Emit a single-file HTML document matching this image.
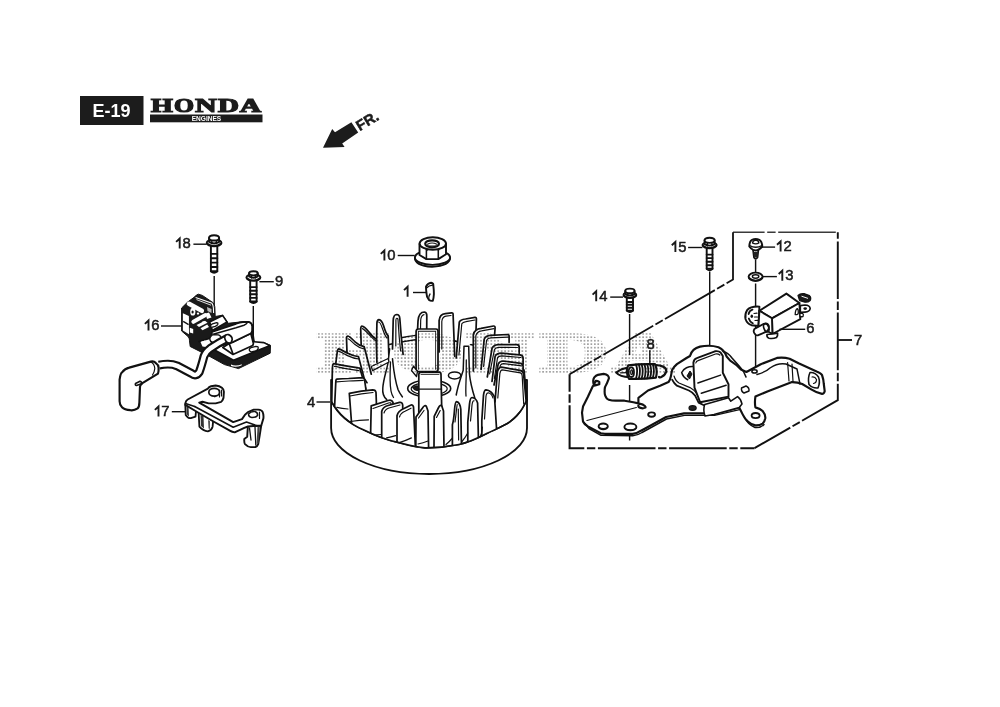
<!DOCTYPE html>
<html><head><meta charset="utf-8"><title>E-19</title>
<style>
html,body{margin:0;padding:0;background:#fff;width:1000px;height:707px;overflow:hidden}
svg{display:block}
.lb{font-family:"Liberation Sans",sans-serif;font-size:14.8px;letter-spacing:0.7px;fill:#1a1a1a;stroke:#1a1a1a;stroke-width:0.5}
.o{fill:#fff;stroke:#111;stroke-width:1.92;stroke-linejoin:round;stroke-linecap:round}
.t{fill:none;stroke:#111;stroke-width:1.32;stroke-linecap:round;stroke-linejoin:round}
.k{fill:none;stroke:#111;stroke-width:1.92;stroke-linecap:round;stroke-linejoin:round}
.ld{fill:none;stroke:#111;stroke-width:1.4}
.dk{fill:#1a1a1a;stroke:#111;stroke-width:1;stroke-linejoin:round}
.ds{fill:none;stroke:#111;stroke-width:1.6}
</style></head>
<body>
<svg width="1000" height="707" viewBox="0 0 1000 707">
<defs>
<pattern id="dots" x="314.5" y="332.9" width="3.45" height="3.47" patternUnits="userSpaceOnUse">
<rect x="0.1" y="0.1" width="1.55" height="1.55" fill="#8c8c8c"/>
</pattern>
<g id="hondaLogo" font-family="Liberation Serif" font-weight="bold" font-size="18"><text transform="translate(150.89,111.6) scale(1.556,1)">H</text><text transform="translate(174.04,111.6) scale(1.431,1)">O</text><text transform="translate(195.16,111.6) scale(1.631,1)">N</text><text transform="translate(218.11,111.6) scale(1.61,1)">D</text><text transform="translate(239.87,111.6) scale(1.641,1)">A</text></g>
<mask id="wmmask" maskUnits="userSpaceOnUse" x="300" y="320" width="420" height="70">
<rect x="300" y="320" width="420" height="70" fill="#000"/>
<g font-family="Liberation Serif" font-weight="bold" font-size="18" fill="#fff" stroke="#fff" stroke-width="1.2">
<text transform="translate(318.08,370.65) scale(5.016,3.086)">H</text>
<text transform="translate(392.74,370.65) scale(4.994,3.086)">O</text>
<text transform="translate(466.14,370.65) scale(5.143,3.086)">N</text>
<text transform="translate(540.63,370.65) scale(5.137,3.086)">D</text>
<text transform="translate(612.88,370.65) scale(4.606,3.086)">A</text>
</g>
</mask>
</defs>

<g id="header">
<rect x="80" y="96" width="63.5" height="29" fill="#1c1c1c"/>
<text x="111.5" y="117.2" text-anchor="middle" font-family="Liberation Sans" font-weight="bold" font-size="18" fill="#fff">E-19</text>
<use href="#hondaLogo" fill="#1c1c1c" stroke="#1c1c1c" stroke-width="1.2"/>
<rect x="150" y="114.5" width="112.5" height="7.8" fill="#1c1c1c"/>
<text x="206.5" y="121.3" text-anchor="middle" font-family="Liberation Sans" font-weight="bold" font-size="8" fill="#fff" textLength="29.5" lengthAdjust="spacingAndGlyphs">ENGINES</text>
</g>
<g id="fr">
<polygon points="323,147.8 332.2,129 335,132.2 351.4,122.2 358.2,132.6 342.2,143.4 344.6,147" fill="#1c1c1c"/>
<text transform="translate(359.8,131.2) rotate(-31)" font-family="Liberation Sans" font-weight="bold" font-size="14.6" fill="#1c1c1c" stroke="#1c1c1c" stroke-width="0.5">FR.</text>
</g>

<g id="bolts">
<path class="o" d="M210.9,245.6 V271.3 Q214.1,274.3 217.3,271.3 V245.6 Z"/>
<path class="t" d="M210.9,253.9 H217.3" style="stroke-width:1.92"/>
<path class="t" d="M210.9,258.3 H217.3" style="stroke-width:1.92"/>
<path class="t" d="M210.9,262.6 H217.3" style="stroke-width:1.92"/>
<path class="t" d="M210.9,267.0 H217.3" style="stroke-width:1.92"/>
<path class="t" d="M210.9,271.3 H217.3" style="stroke-width:1.92"/>
<ellipse class="o" cx="214.1" cy="242.9" rx="7.4" ry="3.4"/>
<path class="t" d="M207.2,243.4 Q214.1,248.4 221.0,243.4"/>
<path class="o" d="M209.1,237.9 V241.9 Q214.1,245.0 219.1,241.9 V237.9 Z"/>
<path class="t" d="M211.8,238.9 V243.7 M216.3,238.9 V243.7"/>
<ellipse class="o" cx="214.1" cy="237.9" rx="5.0" ry="2.6"/>
<path class="o" d="M250.2,280.1 V301.5 Q253.4,304.5 256.6,301.5 V280.1 Z"/>
<path class="t" d="M250.2,287.1 H256.6" style="stroke-width:1.92"/>
<path class="t" d="M250.2,290.7 H256.6" style="stroke-width:1.92"/>
<path class="t" d="M250.2,294.3 H256.6" style="stroke-width:1.92"/>
<path class="t" d="M250.2,297.9 H256.6" style="stroke-width:1.92"/>
<path class="t" d="M250.2,301.5 H256.6" style="stroke-width:1.92"/>
<ellipse class="o" cx="253.4" cy="277.5" rx="7.0" ry="3.3"/>
<path class="t" d="M246.9,278.0 Q253.4,282.8 259.9,278.0"/>
<path class="o" d="M249.1,273.3 V276.5 Q253.4,279.0 257.7,276.5 V273.3 Z"/>
<path class="t" d="M251.5,274.3 V278.0 M255.3,274.3 V278.0"/>
<ellipse class="o" cx="253.4" cy="273.3" rx="4.3" ry="2.1"/>
<path class="o" d="M706.7,247.6 V268.8 Q709.6,271.8 712.5,268.8 V247.6 Z"/>
<path class="t" d="M706.7,254.6 H712.5" style="stroke-width:1.92"/>
<path class="t" d="M706.7,258.1 H712.5" style="stroke-width:1.92"/>
<path class="t" d="M706.7,261.7 H712.5" style="stroke-width:1.92"/>
<path class="t" d="M706.7,265.2 H712.5" style="stroke-width:1.92"/>
<path class="t" d="M706.7,268.8 H712.5" style="stroke-width:1.92"/>
<ellipse class="o" cx="709.6" cy="245.1" rx="7.1" ry="3.2"/>
<path class="t" d="M703.0,245.6 Q709.6,250.2 716.2,245.6"/>
<path class="o" d="M704.6,240.3 V244.1 Q709.6,247.2 714.6,244.1 V240.3 Z"/>
<path class="t" d="M707.4,241.3 V245.9 M711.9,241.3 V245.9"/>
<ellipse class="o" cx="709.6" cy="240.3" rx="5.0" ry="2.6"/>
<path class="o" d="M626.8,297.4 V310.6 Q629.9,313.6 633.0,310.6 V297.4 Z"/>
<path class="t" d="M626.8,302.0 H633.0" style="stroke-width:1.92"/>
<path class="t" d="M626.8,304.8 H633.0" style="stroke-width:1.92"/>
<path class="t" d="M626.8,307.7 H633.0" style="stroke-width:1.92"/>
<path class="t" d="M626.8,310.6 H633.0" style="stroke-width:1.92"/>
<ellipse class="o" cx="629.9" cy="295.0" rx="6.4" ry="3.0"/>
<path class="t" d="M624.0,295.5 Q629.9,299.8 635.8,295.5"/>
<path class="o" d="M625.3,290.9 V294.1 Q629.9,296.9 634.5,294.1 V290.9 Z"/>
<path class="t" d="M627.8,291.9 V295.7 M632.0,291.9 V295.7"/>
<ellipse class="o" cx="629.9" cy="290.9" rx="4.6" ry="2.3"/>
</g>
<g id="coil">
<path class="ld" d="M214.2,276 V306"/>
<path class="ld" d="M253.3,306 V343"/>
<!-- silhouette dark -->
<path class="dk" d="M181.6,308 L187.6,302.1 L194.4,297.1 Q196.5,294.4 198.4,294.2 L202.3,295.4 L213.1,302.7 L214.8,306.7 L215.2,316.5 L222.6,315.2 L227.1,321.6 L228,323.3 L245,321.5 L250.6,322 L253,326 L253,332 L254.5,343 L264,342.5 L270.5,345.3 L270.2,353.2 L238.5,368.6 L224.5,364.6 L207.9,355.4 L190.2,346.5 L189.5,340.8 L188.1,336.6 L181.6,331 Z"/>
<!-- base top face white -->
<path class="o" d="M199,341.5 L233.5,360.2 L269.6,345.6 L263.8,342.6 L246,341 L218,336 Z" style="stroke-width:1.56"/>
<path fill="#fff" d="M231,364.6 Q236,366.6 242,364.2 L241.5,365.4 Q236,367.6 231,366Z"/>
<!-- slot on base -->
<path class="o" d="M249.3,350.2 Q249,348.5 251,347.6 L256,346.3 Q258.5,346.3 258.2,348.3 Q257.8,350 255.5,350.8 L251.6,351.8 Q249.6,351.9 249.3,350.2Z" style="stroke-width:1.32"/>
<!-- left face of block -->
<path fill="#fff" d="M182.9,313.2 L188.9,316 L189,334.2 L182.9,330.6 Z"/>
<path fill="none" stroke="#111" stroke-width="1.32" d="M183.2,321.4 L188.6,324.6"/>
<path fill="#fff" d="M189.8,327.8 L193.2,329 L193.2,333.4 L189.8,332.4 Z"/>
<path fill="#fff" d="M183.5,335 L188.5,338 L189,341 L184.5,337.6 Z"/>
<!-- top plate rim -->
<path fill="none" stroke="#fff" stroke-width="1.08" d="M195.6,297.4 L212,303.3 Q213.3,305 213.4,308 L213.6,313"/>
<path fill="none" stroke="#fff" stroke-width="0.84" d="M196.5,299.6 L211,305.2"/>
<path fill="#bbb" d="M207,307 L211.5,309 L211.5,313 L207.5,311Z"/>
<!-- white top bar -->
<path fill="none" stroke="#fff" stroke-width="4.56" stroke-linecap="round" d="M189,303.8 L201.8,310.8"/>
<!-- eye -->
<ellipse cx="192.8" cy="311.7" rx="2.6" ry="3.9" fill="#fff"/>
<ellipse cx="192.6" cy="311.9" rx="1.1" ry="1.5" fill="#111"/>
<ellipse cx="198" cy="313.6" rx="1.2" ry="1.1" fill="#fff"/>
<!-- white bars -->
<path fill="none" stroke="#fff" stroke-width="4.08" stroke-linecap="round" d="M193.4,321.8 L205,315.2"/>
<path fill="#fff" d="M205.5,313.5 L209,312.5 L211.5,317.5 L207,319Z"/>
<path fill="#fff" d="M196.5,325 L205,320.8 L207.5,322.8 L199,327Z"/>
<path fill="#fff" d="M200.5,328.2 L207.2,324.6 L209,327 L202.5,330.2Z"/>
<ellipse cx="203.5" cy="322.5" rx="1.6" ry="1.2" fill="#fff"/>
<path fill="#fff" d="M200.5,342 L205,340.5 L210.5,344 L209,347.5 L202.5,346.5 Z"/>
<!-- platform -->
<path class="o" d="M209.6,322.1 L222.6,315.4 L227.1,322.1 L212.4,330.6 Z" style="stroke-width:1.68"/>
<path class="o" d="M210.6,326.4 Q210.4,324.6 212.4,323.8 L216.6,322.6 Q218.2,322.6 217.8,324.2 Q217.2,325.6 215.2,326.3 L212.6,327.1 Q210.9,327.3 210.6,326.4Z" style="stroke-width:1.32"/>
<!-- V block -->
<path class="o" d="M222.8,347.5 L229.2,343.6 L250.8,333.5 L253.4,343.6 L252.7,345.6 L233,354.5 Z" style="stroke-width:1.68"/>
<path class="t" d="M229.2,343.6 L233,354" style="stroke-width:1.68"/>
<!-- coil body long bar -->
<path class="o" d="M212,331.8 L236,323.8 Q240,322 243,322 L248.9,322 Q252.3,323.3 252.2,326.5 L252.1,330.9 Q251.6,333 250.6,333.5 L232.4,342.4 L216,347.5 Q211.5,346 211.2,340 Z" style="stroke-width:1.80"/>
<path class="t" d="M213.2,334.2 L236,327.8 L244,325.2 Q246.5,324.3 247.5,322.4" style="stroke-width:1.44"/>
<!-- connector blob -->
<path class="o" d="M209.8,339 Q210.5,335 214,334.6 L218.5,334.8 Q221.5,336 221,339 L219.5,341.6 L213,342.3 Q210,341.8 209.8,339Z" style="stroke-width:1.32"/>
<!-- wire -->
<path fill="none" stroke="#111" stroke-width="8.88" stroke-linecap="butt" stroke-linejoin="round" d="M227.5,338.2 Q219,342.5 210.2,348.5 Q205.5,352 204,356.2 Q201.5,366 199.3,372 Q196,377 191.6,373.5 L177,365.8 Q170,362.8 159,365.2"/>
<path fill="none" stroke="#fff" stroke-width="4.56" stroke-linecap="butt" stroke-linejoin="round" d="M228.5,337.8 Q219,342.5 210.2,348.5 Q205.5,352 204,356.2 Q201.5,366 199.3,372 Q196,377 191.6,373.5 L177,365.8 Q170,362.8 158,365.2"/>
<!-- collar -->
<path class="o" d="M224.6,337 Q225.5,334 228.5,334.6 Q232.2,336 232.2,339.5 Q231.8,343 229,343.1 Q225.2,342.5 224.6,337Z" style="stroke-width:1.68"/>
<!-- boot -->
<path class="o" d="M119.6,379.6 Q120.5,373 122,372.4 Q125,368.5 129.2,367.6 L150.8,361.6 Q154,361 155.6,362.8 Q158.5,364.8 158.6,367.6 Q158.8,371.8 158,373.6 L142.4,383.2 Q140,384.5 140,386.8 L139.4,402.4 Q139.3,407 137.6,408.4 Q134,410.8 130.4,410.2 Q124.5,409.8 122,407.2 Q119.6,405 119.6,401.2 Z" style="stroke-width:2.16"/>
<path class="t" d="M135.5,383.5 L140,381.3 Q142,382 141.5,383.8 L136.5,385.5 Q134.8,385.3 135.5,383.5Z" style="stroke-width:1.56"/>
<path class="t" d="M150.8,361.8 Q154.5,364 154.8,368.5 Q154.5,372 152.5,375" style="stroke-width:1.20"/>
</g>

<g id="bracket17">
<!-- tabs below -->
<path class="o" d="M185.3,404.5 L185.7,415 Q188,418.5 190.8,418.2 L195.5,416.6 L196.2,409 Z" style="stroke-width:1.80"/>
<path fill="#333" d="M186.5,407 L188.5,406.5 L189,416.5 L186.8,414.5Z"/>
<path class="o" d="M198.6,412 L199.4,426.7 Q203,431 207.9,431.4 Q211.5,430.5 212.6,426.7 L213.4,418 Z" style="stroke-width:1.80"/>
<path fill="#333" d="M200.5,415 L203.5,416 L204,428.5 L201,426 Z"/>
<path fill="#555" d="M208,420 L210,421 L210,429 L208.5,428.5Z"/>
<!-- right leg -->
<path class="o" d="M247.9,426 L247.2,436.8 L244.3,439 Q244,443 245,444.1 Q248,447.2 250.9,447.1 L255.3,447.1 Q257.5,446 258.2,444.1 L259.7,435.3 L261.2,425.7 Z" style="stroke-width:1.92"/>
<path class="t" d="M249.5,428 L251,440 M255,427 L255.8,445"/>
<path fill="#444" d="M257.5,427 L259.8,426.5 L258.6,443 L256.6,444 Z"/>
<!-- main bar body -->
<path class="o" d="M185.3,403.4 Q185.8,400.5 187.7,399.5 L207.9,388.6 Q209,386.8 211,386.3 L215.7,385.5 Q219.5,385.8 221.9,387.8 Q223.9,389.5 223.9,391.7 L223.5,397.9 Q222.5,401 221.2,401.8 L215.7,403.4 L208.7,403.4 L202.5,401.8 L199.2,402.6 L233.2,422.1 L242,419.1 L245,414.7 L247.9,412.1 L253.8,409.6 L258.2,409.6 Q261.8,410 262.6,411.8 Q263.8,414.5 263.4,418.4 L261.2,425.7 L256.8,425.7 L247.9,426.5 L244.3,427.9 L234.7,432.4 Q232,432 230.3,430.9 L212.6,421 L195.5,411 L185.3,404.9 Z" style="stroke-width:1.92"/>
<!-- bar middle line -->
<path class="t" d="M194.7,406.5 L233.2,427.2 L246.5,422.1 L256.8,425.7" style="stroke-width:1.56"/>
<path class="t" d="M185.5,403.5 L194.7,406.5" style="stroke-width:1.44"/>
<!-- ring 1 -->
<ellipse class="t" cx="214.2" cy="392.3" rx="5.4" ry="3.9" style="stroke-width:1.68"/>
<path class="t" d="M219.5,390 L219.5,397 M221.5,390 L221.5,396" style="stroke-width:1.20"/>
<ellipse cx="214.8" cy="396.6" rx="1" ry="0.8" fill="#111"/>
<!-- ring 2 -->
<path class="t" d="M248.5,414 Q251,411 255,411.5 Q258,412.5 257.5,415.5 Q256,417.5 252,417.5 Q248.5,417 248.5,414Z" style="stroke-width:1.56"/>
<path class="t" d="M259.5,412 L259.5,418.5" style="stroke-width:1.20"/>
</g>

<g id="flywheel">
<path class="o" d="M331.1,380 V428 A97.95,46 0 0 0 527,428 V380 Z" style="stroke-width:1.84"/>
<path class="o" d="M331.8,402 C338,414 350,424 364,430 C375,435.5 386,439.8 398,442.4 C407,444.6 416,447.2 425,447.9 C436,448 448,446.8 458.9,444.5 C469,442.3 478,438 487.2,433.2 C496,429 503,426.5 509.8,421.9 C515,418 519,414 522.3,408.3 L527,400 L524,370 Q500,345 430,338 Q360,345 333,370 Z" style="stroke-width:1.73"/>
<clipPath id="finclip"><path d="M290,250 H570 V400 L527,400 L522.3,408.3 C519,414 515,418 509.8,421.9 C503,426.5 496,429 487.2,433.2 C478,438 469,442.3 458.9,444.5 C448,446.8 436,448 425,447.9 C416,447.2 407,444.6 398,442.4 C386,439.8 375,435.5 364,430 C350,424 338,414 331.8,402 L290,402 Z"/></clipPath>
<g clip-path="url(#finclip)">
<path class="t" d="M401.2,337.8 Q408,336 416.1,335.4 M440.8,346 Q448,341 456,341" style="stroke-width:1.40"/>
<path d="M417.5,331 L418,321 C418.5,314 421.5,312 424.5,312 C426.5,312.3 426.9,314 426.8,316 L426.7,331 L422,335 Z" fill="#fff" stroke="none"/>
<path class="k" d="M417.5,331 L418,321 C418.5,314 421.5,312 424.5,312 C426.5,312.3 426.9,314 426.8,316 L426.7,331" style="stroke-width:1.73"/>
<path class="t" d="M420.5,329 L420.7,320 C421,316.5 422.5,315 424,314.6" style="stroke-width:1.19"/>
<path d="M392.5,349 L393.2,320.5 C393.4,316 395,314.5 396.7,314.5 C398.8,314.6 399.7,316.5 399.8,318.5 L401.2,336 L403.1,354.4 L397,352 Z" fill="#fff" stroke="none"/>
<path class="k" d="M392.5,349 L393.2,320.5 C393.4,316 395,314.5 396.7,314.5 C398.8,314.6 399.7,316.5 399.8,318.5 L401.2,336 L403.1,354.4" style="stroke-width:1.73"/>
<path class="t" d="M395.8,346 L395.9,320 C396,318 397.5,317.5 398,319.5 L399.2,337 L400.6,351" style="stroke-width:1.19"/>
<path d="M376.2,361 L376.9,323.3 C377,320.3 378,319.6 379,319.6 C381.5,319.8 382.5,322.5 383.5,325.5 C385,330.5 386.5,334.5 388.2,336 L389,360 L382,363 Z" fill="#fff" stroke="none"/>
<path class="k" d="M376.2,361 L376.9,323.3 C377,320.3 378,319.6 379,319.6 C381.5,319.8 382.5,322.5 383.5,325.5 C385,330.5 386.5,334.5 388.2,336 L389,360" style="stroke-width:1.73"/>
<path class="t" d="M378.6,322 C380.5,322 381.5,326 382.8,329.5 C384,333 385.5,336.5 387,338" style="stroke-width:1.19"/>
<path d="M361.4,352 L360.7,329 C360.8,326.8 361.5,326 362.1,326.1 C364,326.3 366,328.5 368.5,331.5 C371,334.5 373.5,338 376.2,338.9 L376.9,362.2 L368,364 Z" fill="#fff" stroke="none"/>
<path class="k" d="M361.4,352 L360.7,329 C360.8,326.8 361.5,326 362.1,326.1 C364,326.3 366,328.5 368.5,331.5 C371,334.5 373.5,338 376.2,338.9 L376.9,362.2" style="stroke-width:1.73"/>
<path class="t" d="M362.4,328.6 C364.5,329.5 367,332.5 369.5,335 C372,337.5 374,340.2 376.3,341" style="stroke-width:1.19"/>
<path d="M347.2,358 L346.5,338.2 C346.6,336.4 347.2,336 347.9,336 C350,336.5 352.5,339.5 355,341.8 C358,344.5 361,346.2 364.2,346.7 L371.3,374.2 L350,372 Z" fill="#fff" stroke="none"/>
<path class="k" d="M347.2,358 L346.5,338.2 C346.6,336.4 347.2,336 347.9,336 C350,336.5 352.5,339.5 355,341.8 C358,344.5 361,346.2 364.2,346.7 L371.3,374.2" style="stroke-width:1.73"/>
<path class="t" d="M348,338.8 C350,339.5 352.5,342.5 355,344.5 C358,347 361,348.6 364.6,349.2" style="stroke-width:1.19"/>
<path d="M335.2,368 L337.3,351.6 C337.6,349.4 338,348.8 338.7,348.8 C341.5,349.2 344,351.5 347.2,353 C351,355 355,356.3 358.5,356.6 L364.2,378.5 L367,382.7 L340,382 Z" fill="#fff" stroke="none"/>
<path class="k" d="M335.2,368 L337.3,351.6 C337.6,349.4 338,348.8 338.7,348.8 C341.5,349.2 344,351.5 347.2,353 C351,355 355,356.3 358.5,356.6 L364.2,378.5 L367,382.7" style="stroke-width:1.73"/>
<path class="t" d="M338.6,351.4 C341.5,352 344.5,354.2 347.5,355.6 C351,357.3 355,358.6 359,359" style="stroke-width:1.19"/>
<path d="M331.7,404 L332.4,368 C332.6,364.8 333,363.6 333.8,363.6 C338,364 341,365.2 344.4,365.7 C349,366.5 354,367.3 358.5,367.9 Q359.6,368 360,368.6 L365.6,388.4 L350,398 Z" fill="#fff" stroke="none"/>
<path class="k" d="M331.7,404 L332.4,368 C332.6,364.8 333,363.6 333.8,363.6 C338,364 341,365.2 344.4,365.7 C349,366.5 354,367.3 358.5,367.9 Q359.6,368 360,368.6 L365.6,388.4" style="stroke-width:1.73"/>
<path class="t" d="M334.3,366.4 C338,366.8 341,368 344.4,368.4 C349,369.2 354,370 359,370.6" style="stroke-width:1.19"/>
<path d="M334.5,408.2 L335.8,382 C335.9,380 336.2,379.2 336.6,379.2 C341,378.8 344.5,378.6 348.6,378.5 C353,378.3 358,378 362.8,377.8 Q364.2,378 364.5,379.5 L367,396.9 L350,404 Z" fill="#fff" stroke="none"/>
<path class="k" d="M334.5,408.2 L335.8,382 C335.9,380 336.2,379.2 336.6,379.2 C341,378.8 344.5,378.6 348.6,378.5 C353,378.3 358,378 362.8,377.8 Q364.2,378 364.5,379.5 L367,396.9" style="stroke-width:1.73"/>
<path class="t" d="M336.5,381.8 C341,381.4 345,381.2 349,381 C353.5,380.8 358,380.5 363.2,380.4" style="stroke-width:1.19"/>
<path d="M389.6,348.8 L392.5,358.7 C393.5,368 394,377 398.1,389.8 C399.5,393 401,395 402.4,396.9 L386.8,399.7 C383,396.5 382.4,392 382.8,388 C383.5,378 387.5,368 388.2,361.5 Z" fill="#fff"/>
<path class="k" d="M389.6,348.8 L388.2,361.5 C387.5,368 383.5,378 382.8,388 C382.4,392 383,396.5 386.8,399.7 M392.5,358.7 C393.5,368 394,377 398.1,389.8 C399.5,393 401,395 402.4,396.9" style="stroke-width:1.51"/>
<path class="t" d="M390.5,362 C390,372 389.5,383 391,391 C391.6,394 392.5,396 393.5,397.5"/>
<path class="o" d="M371.3,366.5 L388.2,358.5 L389,362 L372.6,370.6 Z" style="stroke-width:1.30"/>
<path d="M439.1,352 L439.1,320.6 C439.5,316 442,314 445.3,313.6 L451.6,312.8 C452.8,312.8 453.2,313.5 453.1,314.8 L454.7,356.3 L446,356 Z" fill="#fff" stroke="none"/>
<path class="k" d="M439.1,352 L439.1,320.6 C439.5,316 442,314 445.3,313.6 L451.6,312.8 C452.8,312.8 453.2,313.5 453.1,314.8 L454.7,356.3" style="stroke-width:1.73"/>
<path class="t" d="M441.8,349 L441.8,321.5 C442.2,318 444,316.5 446,316.2 L451,315.5" style="stroke-width:1.19"/>
<path d="M456.2,358 L459.3,322.1 C460,320.2 462,319.4 465.5,319 L474.9,317.4 C476,317.3 476.5,318 476.4,319.2 L475.7,339.2 L466,348 Z" fill="#fff" stroke="none"/>
<path class="k" d="M456.2,358 L459.3,322.1 C460,320.2 462,319.4 465.5,319 L474.9,317.4 C476,317.3 476.5,318 476.4,319.2 L475.7,339.2" style="stroke-width:1.73"/>
<path class="t" d="M458.9,355 L461.8,323.8 C462.5,322.5 464,321.9 466,321.6 L475,320" style="stroke-width:1.19"/>
<path d="M473.3,371 L473.3,334.5 C474.2,330.5 477,328.8 481.1,328.3 L493.5,326 C494.7,325.9 495.2,326.6 495.1,328 L494.3,338.4 L482,352 Z" fill="#fff" stroke="none"/>
<path class="k" d="M473.3,371 L473.3,334.5 C474.2,330.5 477,328.8 481.1,328.3 L493.5,326 C494.7,325.9 495.2,326.6 495.1,328 L494.3,338.4" style="stroke-width:1.73"/>
<path class="t" d="M475.8,368 L475.8,335.8 C476.6,332.6 478.5,331.3 481.5,330.9 L494,328.7" style="stroke-width:1.19"/>
<path d="M481.1,369.5 L484.2,339.2 C485.2,336.4 487.5,335.5 490.4,335.3 L507.5,334.5 C508.6,334.5 509.2,335.2 509.1,336.5 L509.1,342.3 L492,358 Z" fill="#fff" stroke="none"/>
<path class="k" d="M481.1,369.5 L484.2,339.2 C485.2,336.4 487.5,335.5 490.4,335.3 L507.5,334.5 C508.6,334.5 509.2,335.2 509.1,336.5 L509.1,342.3" style="stroke-width:1.73"/>
<path class="t" d="M483.6,366.5 L486.6,340.3 C487.4,338.6 489,338 491,337.9 L508,337.2" style="stroke-width:1.19"/>
<path d="M487.3,377 L492,348.5 C493.2,345.8 495.2,344.9 498.2,344.7 L516.9,344.7 C518.5,344.8 519.2,345.8 519.2,347.3 L519.2,353.2 L500,368 Z" fill="#fff" stroke="none"/>
<path class="k" d="M487.3,377 L492,348.5 C493.2,345.8 495.2,344.9 498.2,344.7 L516.9,344.7 C518.5,344.8 519.2,345.8 519.2,347.3 L519.2,353.2" style="stroke-width:1.73"/>
<path class="t" d="M489.6,374 L494.4,349.8 C495.3,348 496.8,347.5 498.8,347.4 L517.5,347.5" style="stroke-width:1.19"/>
<path d="M492,381.5 L495.1,356.3 C496.2,354 498.3,353.3 501.3,353.2 L520,354.8 C522,355.2 523,356.5 523.1,358 L523.1,364.1 L505,375 Z" fill="#fff" stroke="none"/>
<path class="k" d="M492,381.5 L495.1,356.3 C496.2,354 498.3,353.3 501.3,353.2 L520,354.8 C522,355.2 523,356.5 523.1,358 L523.1,364.1" style="stroke-width:1.73"/>
<path class="t" d="M494.4,378.5 L497.5,357.8 C498.3,356.3 499.8,355.9 502,355.9 L521,357.5" style="stroke-width:1.19"/>
<path d="M494,385 L498.2,364.1 C499.2,361.9 500.8,361.1 502.9,361 L520.8,363.3 C522.5,363.8 523.1,365 523.1,366.2 L523.1,370.3 L508,382 Z" fill="#fff" stroke="none"/>
<path class="k" d="M494,385 L498.2,364.1 C499.2,361.9 500.8,361.1 502.9,361 L520.8,363.3 C522.5,363.8 523.1,365 523.1,366.2 L523.1,370.3" style="stroke-width:1.73"/>
<path class="t" d="M496.4,382 L500.4,365.3 C501.1,364 502.2,363.7 503.5,363.6 L521.5,365.9" style="stroke-width:1.19"/>
<path d="M495,402 L497.4,371.9 C498.2,368.8 499.6,367.4 501.3,367.2 L520,370.3 C522.4,370.8 523.5,372.5 523.6,374.2 L526.2,402 L522.4,408.6 L510,420 Z" fill="#fff" stroke="none"/>
<path class="k" d="M495,402 L497.4,371.9 C498.2,368.8 499.6,367.4 501.3,367.2 L520,370.3 C522.4,370.8 523.5,372.5 523.6,374.2 L526.2,402" style="stroke-width:1.73"/>
<path class="t" d="M497.8,398 L499.9,373.3 C500.4,371 501.2,370 502.3,369.9 L520.5,372.9 C521.7,373.4 522.2,374.6 522.2,376 L523.7,404" style="stroke-width:1.19"/>
<path class="o" d="M416.1,331.5 Q416.1,329 418.5,329 L436,329 Q438,329 438,331.5 L438,369.5 Q438,371.5 436,371.5 L418.5,371.5 Q416.1,371.5 416.1,369.5 Z" style="stroke-width:1.73"/>
<path class="t" d="M418.4,331.3 L435.6,331.3" style="stroke-width:1.08"/>
<path class="t" d="M418.4,331.3 L418.4,369.3 M435.6,331.3 L435.6,369.3" style="stroke-width:0.86"/>
<path class="o" d="M413.5,366 L417.5,371.5 L416.5,376.5 L411.5,370.5 Z" style="stroke-width:1.30"/>
<ellipse class="o" cx="429.2" cy="388.5" rx="21.5" ry="8.5" style="stroke-width:1.62"/>
<ellipse class="t" cx="429.2" cy="388.8" rx="18" ry="6.3" style="stroke-width:1.19"/>
<path class="dk" d="M412.5,387.5 Q414,385.6 417.5,385.8 L418.8,386.2 L418.8,390.2 L417,390.5 Q413.5,390.2 412.5,387.5Z"/>
<ellipse class="o" cx="454.6" cy="375.4" rx="6.2" ry="3.5" style="stroke-width:1.51"/>
<path d="M464,346.2 L468.7,346.2 L469.4,373.4 C470,380 471,386 474.9,398.3 L456.2,396 C457,388 459.5,380 463.2,370.3 Z" fill="#fff"/>
<path class="k" d="M464,346.2 L468.7,346.2 L469.4,373.4 C470,380 471,386 474.9,398.3 M464,346.2 L463.2,370.3 C461,377 458,385 456.2,395" style="stroke-width:1.51"/>
<path class="t" d="M466.3,360 L466.2,376 C466,383 465.5,390 466,396"/>
<path class="o" d="M418.8,374.5 Q419,372.2 421,372.2 L439,372.2 Q441,372.2 441,374.5 L442.6,450 L418.8,450 Z" style="stroke-width:1.73"/>
<path class="t" d="M421,374.3 L439,374.3" style="stroke-width:0.97"/>
<path class="t" d="M419,389.1 L441.5,389.1" style="stroke-width:1.40"/>
<path d="M352,429.0 L349.3,393.3 L361.4,391.2 L372.7,389.8 C374.8,389.8 375.8,390.8 376,392.5 L377,419.0 L370,433.0 Z" fill="#fff" stroke="none"/>
<path class="k" d="M352,429.0 L349.3,393.3 L361.4,391.2 L372.7,389.8 C374.8,389.8 375.8,390.8 376,392.5 L377,419.0" style="stroke-width:1.73"/>
<path class="t" d="M350,396 L361.5,393.8 L373,392.5" style="stroke-width:1.19"/>
<path d="M370.5,439.0 L371.2,405.9 L388,400.5 C390.5,399.6 392.2,400.4 393,402.4 L393.5,442.0 L382,445.0 Z" fill="#fff" stroke="none"/>
<path class="k" d="M370.5,439.0 L371.2,405.9 L388,400.5 C390.5,399.6 392.2,400.4 393,402.4 L393.5,442.0" style="stroke-width:1.73"/>
<path class="t" d="M373,408.5 L388.5,403 C390,402.5 391,402.8 391.2,404" style="stroke-width:1.19"/>
<path d="M381.7,442.0 L381.7,411.5 C382.5,408 385,406.3 388,405.5 L399.5,402.4 C401.5,402 402.5,403 402.7,405.2 L403,446.0 L392,447.0 Z" fill="#fff" stroke="none"/>
<path class="k" d="M381.7,442.0 L381.7,411.5 C382.5,408 385,406.3 388,405.5 L399.5,402.4 C401.5,402 402.5,403 402.7,405.2 L403,446.0" style="stroke-width:1.73"/>
<path class="t" d="M384,413 C384.8,410.2 386.5,408.8 389,408 L400,405" style="stroke-width:1.19"/>
<path d="M397,446.0 L397,415.7 C397.8,412 400,410 404,408.5 L410.5,405.2 C412.2,404.5 413.2,405.3 413.5,407 L415.3,445.0 L406,449.0 Z" fill="#fff" stroke="none"/>
<path class="k" d="M397,446.0 L397,415.7 C397.8,412 400,410 404,408.5 L410.5,405.2 C412.2,404.5 413.2,405.3 413.5,407 L415.3,445.0" style="stroke-width:1.73"/>
<path class="t" d="M399.5,417 C400.3,414 402,412.5 405,411.3 L411,408.2" style="stroke-width:1.19"/>
<path d="M415.8,446.0 L416,417 L422.5,408 C424,405.5 425.5,405 426.4,406.5 L428,411 L428.6,447.0 L422,451.0 Z" fill="#fff" stroke="none"/>
<path class="k" d="M415.8,446.0 L416,417 L422.5,408 C424,405.5 425.5,405 426.4,406.5 L428,411 L428.6,447.0" style="stroke-width:1.73"/>
<path class="t" d="M418.5,418 L424,410.5" style="stroke-width:1.19"/>
<path d="M434,447.0 L434.2,416.4 L438.6,407.5 C439.8,405.2 440.8,404.8 441.8,406 L443.5,411 L444,448.5 L438,452.0 Z" fill="#fff" stroke="none"/>
<path class="k" d="M434,447.0 L434.2,416.4 L438.6,407.5 C439.8,405.2 440.8,404.8 441.8,406 L443.5,411 L444,448.5" style="stroke-width:1.73"/>
<path class="t" d="M436.5,417.5 L440.2,410.5" style="stroke-width:1.19"/>
<path d="M452.4,448.0 L452.4,424.8 C453.8,420 454.2,414 454.5,410 C455,403.5 455.6,401.7 456.6,401.7 C459,402.2 460.3,405 460.8,409.4 L461.5,447.0 L456,449.0 Z" fill="#fff" stroke="none"/>
<path class="k" d="M452.4,448.0 L452.4,424.8 C453.8,420 454.2,414 454.5,410 C455,403.5 455.6,401.7 456.6,401.7 C459,402.2 460.3,405 460.8,409.4 L461.5,447.0" style="stroke-width:1.73"/>
<path class="t" d="M455,422 C456,415 456.6,408 457.2,404.5 M458.3,409 L458.6,440" style="stroke-width:1.19"/>
<path d="M467.8,443.0 L467.8,422 L469.5,404 C470,399.5 470.8,397.5 472,397.5 C474.5,397.7 476.6,399.8 477.6,403 L478.5,442.4 L472,446.0 Z" fill="#fff" stroke="none"/>
<path class="k" d="M467.8,443.0 L467.8,422 L469.5,404 C470,399.5 470.8,397.5 472,397.5 C474.5,397.7 476.6,399.8 477.6,403 L478.5,442.4" style="stroke-width:1.73"/>
<path class="t" d="M470.5,421 L472,405 C472.5,401.5 473.2,400.5 474,400.8" style="stroke-width:1.19"/>
<path d="M481.8,437.0 L481.8,420.6 L483.5,395 C484,391.5 484.8,389.8 486,389.8 C489.5,390.2 492.5,392.5 494.5,396.8 L497,436.0 L488,442.0 Z" fill="#fff" stroke="none"/>
<path class="k" d="M481.8,437.0 L481.8,420.6 L483.5,395 C484,391.5 484.8,389.8 486,389.8 C489.5,390.2 492.5,392.5 494.5,396.8 L497,436.0" style="stroke-width:1.73"/>
<path class="t" d="M484.5,419 L486,396 C486.6,393.2 487.5,392.6 489,393 C490.8,393.5 492,395 493,398" style="stroke-width:1.19"/>
<path class="t" d="M336.8,407.3 Q342,408.5 348,409 M350.4,421.5 Q359,420 368.5,419.8 M373,435.6 Q377,434.6 381,434.5 M386.6,437.9 Q391,437 395.6,435.6 M400,442.4 Q406,440.5 411.4,437.9 M418,444 Q423,443 428,441 M446,444.5 Q450,441 452.5,438 M462,441.5 Q465,438 467.8,433 M480,437.5 Q482,433 482.5,427" style="stroke-width:1.19"/>
</g>
<path class="k" d="M331.8,402 C338,414 350,424 364,430 C375,435.5 386,439.8 398,442.4 C407,444.6 416,447.2 425,447.9 C436,448 448,446.8 458.9,444.5 C469,442.3 478,438 487.2,433.2 C496,429 503,426.5 509.8,421.9 C515,418 519,414 522.3,408.3 L527,400" style="stroke-width:1.62"/>
</g>
<g id="nut10">
<path class="o" d="M414.9,257.5 Q414.8,265.8 432,266.8 Q450,265.8 450.1,257.5 Z" style="stroke-width:1.92"/>
<ellipse class="o" cx="432.5" cy="257.5" rx="17.6" ry="7.4" style="stroke-width:1.92"/>
<path class="o" d="M419.5,244 V255 L426.4,259.1 H438.3 L446,254.3 V244 Z" style="stroke-width:1.92"/>
<path class="t" d="M426.4,248.5 V259 M438.3,248.5 V259" style="stroke-width:1.56"/>
<ellipse class="o" cx="432.8" cy="243.5" rx="13.2" ry="6.3" style="stroke-width:1.92"/>
<ellipse cx="432.1" cy="243.8" rx="6.9" ry="3.5" fill="#fff" stroke="#111" stroke-width="2.16"/>
<path class="t" d="M427.5,244.3 Q432,241.8 436.8,244.3 M428.5,246 L435.8,246" style="stroke-width:1.08"/>
<path fill="#111" d="M425.5,249.3 L428,250 L427,251.2Z M437.5,250 L440,249.3 L438.5,251.2Z"/>
</g>
<g id="key1">
<path class="o" d="M426,286.7 Q427.5,283.2 431.1,282.7 Q433.6,283.2 433.3,285 Q433.9,290 433.9,294 Q433.6,299 432.8,300.8 Q430.5,301.2 428.8,299.7 Q426.5,297 426.6,294 Q426,290 426,286.7Z" style="stroke-width:1.92"/>
<path class="t" d="M426.5,288 Q429,285.5 432.5,285.2 M428.8,299.5 Q428.5,296 430,294" style="stroke-width:1.32"/>
</g>

<g id="rightgrp">
<!-- dashed box -->
<path class="ds" d="M569.6,374.2 V448.2 H754.5" stroke-dasharray="57.6 2.6 8.4 2.6" stroke-dashoffset="40.1" style="stroke-width:2.04"/>
<path class="ds" d="M754.5,448.2 L837.8,400.1 V232.2" stroke-dasharray="57.6 2.6 8.4 2.6" stroke-dashoffset="16.3" style="stroke-width:1.92"/>
<path class="ds" d="M837.8,232.2 H733" stroke-dasharray="57.6 2.6 8.4 2.6" stroke-dashoffset="69.2" style="stroke-width:1.50;stroke:#3a3a3a"/>
<path class="ds" d="M733,232.2 V279.6 L569.6,374.2" stroke-dasharray="57.6 2.6 8.4 2.6" stroke-dashoffset="2.8" style="stroke-width:1.80"/>
<path class="ld" d="M837.9,340 H852"/>

<!-- leader lines -->
<path class="ld" d="M709.7,271.5 V352"/>
<path class="ld" d="M629.6,314 V355 M629.6,385 V440.5" style="stroke-width:1.44"/>
<path class="ld" d="M755.6,259.5 V272 M755.6,283.5 V372" style="stroke-width:1.44"/>

<!-- plate -->
<path class="o" d="M593.8,384.8 Q592.4,380 594.3,377.4 Q596,375.2 597.8,374.9 L603.7,373.9 Q606.6,374.2 607.7,375.4 Q609.4,377.4 608.7,378.9 L606.7,383.8 Q604.4,387.5 604.7,389.8 Q604.4,393.8 605.2,395.7 Q606.6,399.2 608.7,399.7 Q612,400.7 615.6,400.7 L624.5,400.7 L633.4,402.2 L639.4,403.6 Q643.4,404.4 644.3,405.6 Q646,407 645.3,407.6 Q643,408.7 641.4,408.1 Q639,407.6 638.4,406.6 L638.4,397.8 L648,390.5 L660.1,385.7 L668.5,382.1 Q670.4,379.5 670.9,376.1 L672.1,370.1 Q674,366.5 676.9,364.1 L686.5,358 L690,356 Q692,348.5 700,346.6 Q710,344.6 718.5,347.2 Q724.5,350 726.6,356.5 L730.2,360.6 Q736.5,364.5 741,369.6 L746.4,372 L760.8,364.2 L777,357.9 Q784,357 789.6,358.8 L798.6,363.3 L816.6,371.4 Q821,373 822,375 Q823.5,379 823.8,384 L824.7,391.2 Q824,393.8 822,393.9 Q816,392.5 811.2,389.4 L802.2,384 Q797,382 791.4,382.2 L768,391.2 L755.4,396.6 Q754.5,402.5 755.4,407.4 Q760.5,408.8 762.6,411 Q765.6,414.5 765.3,418.2 Q764.5,422 762.6,423.6 Q759.5,425.6 755.4,425.4 Q751,424.6 748.2,421.8 Q744.5,418.5 742.8,414.6 Q740.8,410.5 739.2,407.4 L728,410.5 L714,413.4 L701,413.4 L684.1,413.4 L666.1,417 L651.6,425 L641,430.7 Q637,433.6 632.5,433.8 L604.7,433.8 L600.8,433.3 L587.9,426.4 Q584,424 583,421.5 L582,412.6 L583,406.6 L587.9,396.7 L592.9,386 Q596,385.2 599.3,384.3 L599.3,381.9 Q597.5,380.8 595.8,380.9 Z" style="stroke-width:2.16"/>
<!-- plate thickness / edges -->
<path class="t" d="M584,422.5 L589,428.5 L601,435.3 L632.8,435.8 Q638,435.2 642,432.5 L652,427 L666.5,419 L684.5,415.4 L714.5,415.4 L739.5,409.6" style="stroke-width:1.44"/>
<path class="t" d="M744.5,417.5 Q748,424.8 755,427.5 Q761,428 764,424.5" style="stroke-width:1.44"/>
<path class="t" d="M586.9,420.5 L636.4,407.6" style="stroke-width:1.08"/>
<!-- holes -->
<ellipse class="o" cx="603.2" cy="426.4" rx="4.6" ry="2.9" style="stroke-width:1.92"/>
<path class="t" d="M599,427.2 Q603.2,429.8 607.5,427.2" style="stroke-width:1.08"/>
<ellipse class="o" cx="630.4" cy="426.9" rx="6" ry="3.4" style="stroke-width:1.92"/>
<path class="t" d="M625,428.5 Q630.4,431.5 636,428.5" style="stroke-width:1.08"/>
<ellipse class="o" cx="651.6" cy="414.6" rx="3.4" ry="2.2" style="stroke-width:1.92"/>
<ellipse cx="692.6" cy="408" rx="3.6" ry="2.3" fill="#222" stroke="#111" stroke-width="1.20"/>
<ellipse class="o" cx="755.6" cy="415.6" rx="4" ry="2.6" style="stroke-width:1.80"/>
<ellipse class="o" cx="754.5" cy="371.4" rx="2.6" ry="1.6" style="stroke-width:1.56"/>

<!-- central raised ring -->
<path class="t" d="M672.1,379.7 Q674,383.5 676.9,385.7 L688.9,390.5 Q693,392.5 695,395.4 L698.6,402.6 L703.4,405" style="stroke-width:1.80"/>
<path class="t" d="M674,376 Q675.5,381 679,383 L690,387.6 Q695,390.5 697,394" style="stroke-width:1.20"/>
<path class="t" d="M681.7,372.5 Q683.5,369 686.5,367.7 Q689.5,366.4 692.6,366.5 M681.7,372.5 Q683,377.5 687.7,379.7" style="stroke-width:1.56"/>
<path class="dk" d="M687,376 L690,371 L692,374 L689.5,379 Z"/>
<path class="t" d="M723,351.6 Q728,352.5 732,358 L740,367 Q744,371 746,377" style="stroke-width:1.56"/>
<!-- folded tab -->
<path class="o" d="M693.4,362.6 Q694,359 696.8,358.1 L714.9,351.3 Q718.5,350.6 720.6,352.5 L722.8,355.9 L722.8,372.8 L728.5,384.2 L728.5,396.6 L700.2,402.3 L694.5,387.6 Z" style="stroke-width:1.92"/>
<path class="t" d="M695.8,363 Q696.2,361 698,360.6 L715.5,354 Q718,353.5 719.8,355" style="stroke-width:1.20"/>
<path class="t" d="M697.9,383 L720.6,375.1 M701.3,393.2 L726.2,385.3" style="stroke-width:1.44"/>
<path class="o" d="M704.7,404.6 L728.5,397.8 L730.8,401.2 L737.6,396.6 Q741,399 742,404 L739.2,407.4 L714,414.6 L705,416 Q702.8,410 704.7,404.6Z" style="stroke-width:1.56"/>
<!-- small boss on ring -->
<path class="o" d="M741.5,388 L746,386 Q749.5,387.5 749,391 L744,393 Q741,391.5 741.5,388Z" style="stroke-width:1.44"/>
<!-- right arm inner lines -->
<path class="t" d="M757,374.5 Q766,372 770,368 Q778,362.5 786,364 L797,369 L800,384" style="stroke-width:1.44"/>
<path class="t" d="M787.6,362.5 L789,381 M792,364 L793,381.5" style="stroke-width:1.20"/>
<path class="o" d="M810,372.5 Q815,372 818.5,377 Q820.5,382.5 818,388 Q812.5,388.5 809,384.5 Q807.5,378 810,372.5Z" style="stroke-width:1.56"/>
<path class="t" d="M812,377 Q815,376.5 816.5,379.5 Q816.5,383 813.5,383.5" style="stroke-width:1.20"/>

<!-- spring 8 -->
<path class="k" d="M629,367.5 Q621,368.5 616.2,372.6 Q620,376.8 629.5,377.2" style="stroke-width:2.16"/>
<path class="t" d="M620.5,372.8 L628,372.6" style="stroke-width:1.20"/>
<path class="k" d="M654.5,365.2 Q659.5,365 663,366.6 Q666.6,368.5 666.2,371.2 Q665.5,374.6 662,376.6 Q660.2,377.8 659,377" style="stroke-width:2.28"/>
<path class="o" d="M628.2,365.4 Q641,363.6 655,364.2 Q657.8,370.5 656,377.6 Q642,379.4 629,378.8 Q625.2,372 628.2,365.4 Z" style="stroke-width:2.16"/>
<ellipse class="t" cx="631.3" cy="372.2" rx="2.7" ry="4.8" style="stroke-width:1.80"/>
<ellipse class="t" cx="631.6" cy="372.2" rx="0.9" ry="2.4" style="stroke-width:1.20"/>
<path class="t" d="M636,364.4 Q638.3,371.2 636,378.6 M638.8,364.3 Q641.1,371.2 638.8,378.6 M641.6,364.2 Q643.9,371.1 641.6,378.5 M644.4,364.1 Q646.7,371 644.4,378.4 M647.2,364 Q649.5,370.9 647.2,378.3 M650,364 Q652.3,370.8 650,378.1 M652.8,364.1 Q655,370.7 652.8,378" style="stroke-width:1.80"/>
<!-- bolt 12 -->
<path class="o" d="M753,249.5 L754,257.5 Q755.6,260 757.5,257.5 L758.4,249.5 Z" style="stroke-width:1.80"/>
<path fill="#222" d="M753.5,252 L758,252 L757.6,257.5 L754,257.5Z"/>
<path class="o" d="M749.3,246.5 Q749.5,241 752,239.8 Q755.7,238.2 759.4,239.8 Q762,241.5 762.3,246.5 Q758.5,250.5 755.7,250.5 Q752.5,250.5 749.3,246.5Z" style="stroke-width:1.92"/>
<path class="t" d="M749.6,245.5 Q755.7,249 762,245.5 M752.5,243 Q752.8,240.5 755.7,240.2 Q758.8,240.5 758.9,243 Q755.7,244.6 752.5,243" style="stroke-width:1.32"/>
<!-- washer 13 -->
<ellipse class="o" cx="755.6" cy="276.8" rx="7" ry="4.2" style="stroke-width:1.92"/>
<path class="t" d="M748.8,277.6 Q755.6,283.5 762.4,277.6" style="stroke-width:1.44"/>
<ellipse class="t" cx="755.6" cy="276.5" rx="3.2" ry="1.7" style="stroke-width:1.44"/>

<!-- switch 6 -->
<path class="o" d="M759.4,306.6 Q751,306 747.2,310 Q744.6,314 745.5,319 Q747,323.5 751.5,325.2 L758.5,326 Z" style="stroke-width:1.92"/>
<path class="t" d="M748.6,314 Q749.3,310.5 752.5,309.6 M748.8,318.5 Q749.8,322 752.8,323.4" style="stroke-width:1.80"/>
<ellipse cx="751.8" cy="316.2" rx="1.3" ry="1.8" fill="#111"/>
<path class="t" d="M754,313.5 L757,313.2 M754.5,317 L757.5,317 M755,320.5 L758,320.3" style="stroke-width:1.20"/>
<path class="o" d="M759.4,310.7 L786.4,293.6 L799.4,303 L772,318.3 Z" style="stroke-width:1.92"/>
<path class="o" d="M772,318.3 L799.4,303 L800.3,319.2 L772.4,334 Z" style="stroke-width:1.92"/>
<path class="o" d="M759.4,310.7 L772,318.3 L772.4,334 L758.5,326 Z" style="stroke-width:1.92"/>
<path class="o" d="M767,334.5 Q766.5,337.5 769,338.2 Q773,339 776.5,337.5 Q778,335.5 777.6,333.2 L772.4,334 Z" style="stroke-width:1.68"/>
<path class="o" d="M755.2,334.2 Q752.6,332 754.4,329 L763.8,323.8 Q767.6,322.6 768.8,325.8 Q769.6,329.5 766.6,331.6 L757.8,335.4 Q756.2,335.6 755.2,334.2 Z" style="stroke-width:1.80"/>
<ellipse class="t" cx="766.3" cy="327.8" rx="2.4" ry="4.3" transform="rotate(-20 766.3 327.8)" style="stroke-width:1.56"/>
<path class="dk" d="M798,295.5 Q800,293.2 804,293.6 L809.5,295.6 Q811.6,297.6 810.2,300.5 Q808,302.6 805,302.2 L799.6,300.6 Z" style="stroke-width:1.20"/>
<path fill="none" stroke="#fff" stroke-width="0.96" d="M801.5,296.2 L808,298.4"/>
<path class="o" d="M800.3,305.7 L805,305 Q809.8,305.2 810.2,308.5 Q809.8,311.8 805,312.1 L800.3,312.3 Z" style="stroke-width:1.68"/>
<ellipse cx="805.2" cy="308.6" rx="1.8" ry="1.3" fill="#111"/>
<path class="o" d="M799.8,313.5 L802.5,313.2 Q804,314.5 803,316.5 L800.2,317 Z" style="stroke-width:1.32"/>
<path class="t" d="M795.2,314.5 Q795.3,309.5 797.3,308.6 Q798.6,309.5 798.3,313 Q797.8,315.2 795.2,314.5Z" style="stroke-width:1.32"/>
</g>

<g id="labels" class="lb">
<text x="182.5" y="248.3">8</text>
<text x="274.9" y="285.9">9</text>
<text x="151.3" y="330.3">6</text>
<text x="161.2" y="416.3">7</text>
<text x="387.3" y="260.3">0</text>
<text x="307.0" y="407.2">4</text>
<text x="599.3" y="301.0">4</text>
<text x="678.2" y="251.7">5</text>
<text x="783.6" y="251.2">2</text>
<text x="785.2" y="280.4">3</text>
<text x="806.2" y="332.6">6</text>
<text x="853.9" y="344.9">7</text>
<text x="646.5" y="349.1">8</text>
</g>
<path fill="none" stroke="#1a1a1a" stroke-width="1.9" stroke-linejoin="miter" d="M176.1,241.9 L179.7,238.5 V248.6 M144.9,323.9 L148.5,320.5 V330.6 M154.9,409.9 L158.5,406.5 V416.6 M380.8,253.9 L384.4,250.5 V260.6 M404.0,290.1 L407.6,286.7 V296.8 M592.6,294.6 L596.2,291.2 V301.3 M671.8,245.3 L675.4,241.9 V252.0 M777.0,244.8 L780.6,241.4 V251.5 M778.7,274.0 L782.3,270.6 V280.7"/>
<g id="leaders" class="ld">
<path d="M316.5,402H330"/>
<path d="M193.4 244.2H206.6"/>
<path d="M259.4 281.7H273.8"/>
<path d="M161 326H181.5"/>
<path d="M171.8 411.7H185.6"/>
<path d="M397.7 255.5H414.7"/>
<path d="M413 292.5H426"/>
<path d="M610.2 297.1H623"/>
<path d="M688.1 247.5H702.4"/>
<path d="M761.8 247.1H775.1"/>
<path d="M762.7 276.6H776.9"/>
<path d="M779.5 329.3H805.2"/>
<path d="M837.9 340H852"/>
<path d="M649.8 350.3V363.6"/>
</g>

<g id="wm" style="mix-blend-mode:multiply">
<rect x="300" y="320" width="420" height="70" fill="url(#dots)" mask="url(#wmmask)"/>
</g>

</svg>
</body></html>
